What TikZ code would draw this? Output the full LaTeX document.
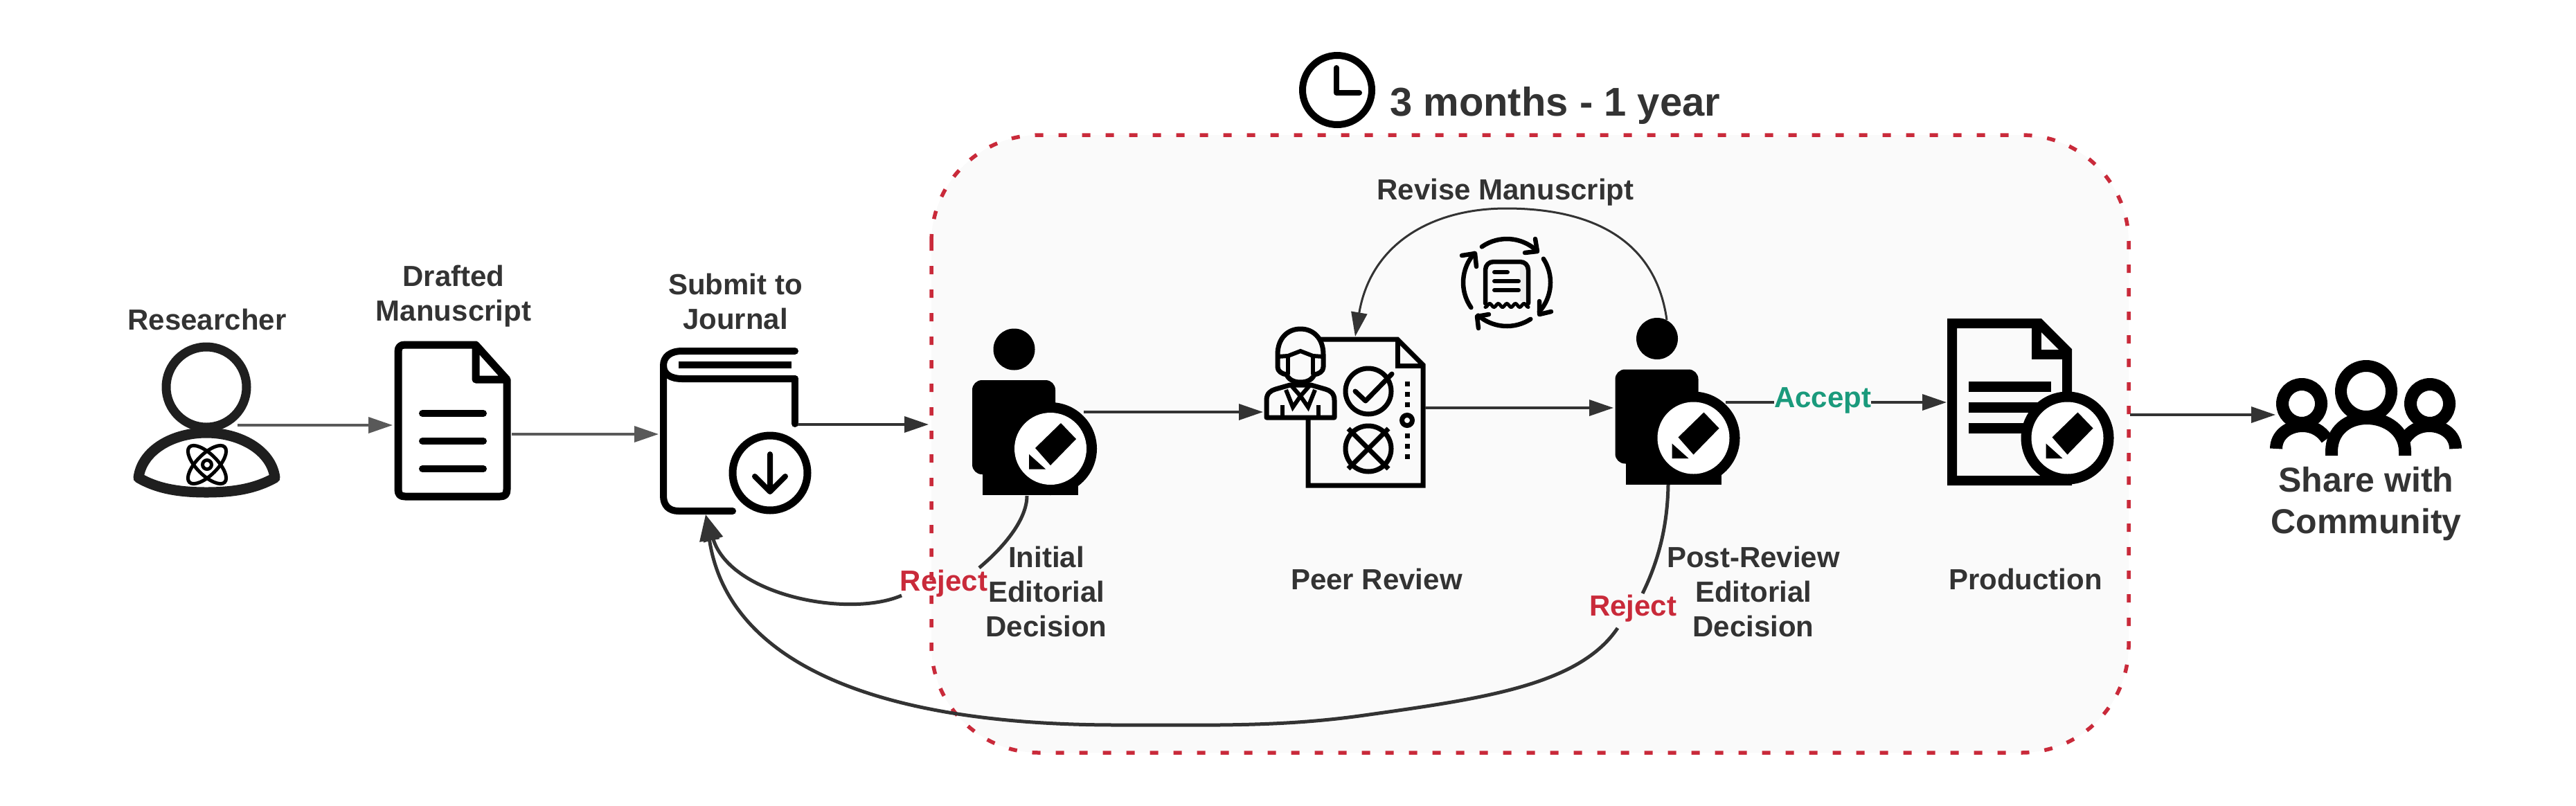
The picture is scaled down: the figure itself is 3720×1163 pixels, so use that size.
\documentclass[tikz,border=0pt]{standalone}
\usepackage{fontspec}
\setmainfont{Liberation Sans}
\usetikzlibrary{arrows.meta}
\definecolor{txt}{HTML}{333333}
\definecolor{boxred}{HTML}{C92A3A}
\definecolor{acc}{HTML}{1A9A7C}
\definecolor{soft}{HTML}{FAFAFA}
\tikzset{l/.style={font=\fontsize{42}{50}\selectfont\bfseries, text=txt, inner sep=0pt, anchor=base, align=center}}
\tikzset{xl/.style={font=\fontsize{50}{60}\selectfont\bfseries, text=txt, inner sep=0pt, anchor=base, align=center}}
\tikzset{
flow/.style={draw=txt, line width=3.5pt, -{Triangle[length=35pt,width=23pt]}},
flowgrey/.style={flow, draw=black!65, -{Triangle[length=35pt,width=23pt,fill=black!65]}},
back/.style={draw=txt, line width=5pt},
thick icon/.style={line width=#1, line cap=round, line join=round}
}
\tikzset{
badge/.pic={
  \fill (0,0) circle (67);
  \fill[white] (0,0) circle (52);
  \fill (15,-37) -- (37,-14) -- (0,24) -- (-22,-1) -- cycle;
  \fill (-31,8) -- (-31,29.5) -- (-7,29.5) -- cycle;
},
editor/.pic={
  \fill (-52.5,-143.5) circle (30);
  \fill[rounded corners=14] (-113,-99) rectangle (7,37);
  \fill (-98,0) rectangle (40,67);
  \pic at (0,0) {badge};
}
}
\begin{document}
\begin{tikzpicture}[x=1pt,y=-1pt]
  \useasboundingbox (0,0) rectangle (3720,1163);
  % review box
  \draw[boxred, fill=soft, line width=5.5pt, rounded corners=155, dash pattern=on 12pt off 22pt] (1345,195) rectangle (3074,1087);
  \coordinate (clockC) at (1931,130);
  \draw[line width=10pt] (clockC) circle (50);
  \draw[thick icon=8pt] (1930,98) -- (1930,134) -- (1963,134);
  \node[font=\fontsize{58}{58}\selectfont\bfseries, text=txt, inner sep=0pt, anchor=base west] (timeLabel) at (2007,167) {3 months - 1 year};

  % researcher
  \draw[line width=13pt, draw=black!88] (298,559) circle (58);
  \draw[line width=15pt, draw=black!88, line join=round] (200,690) .. controls (205,650) and (250,625) .. (298,625) .. controls (346,625) and (392,650) .. (397,690) .. controls (370,705) and (340,711) .. (298,711) .. controls (256,711) and (226,705) .. (200,690) -- cycle;
  \draw[line width=5pt] (299,671) circle (6.5);
  \draw[line width=5pt, rotate around={45:(299,671)}] (299,671) ellipse (36 and 15);
  \draw[line width=5pt, rotate around={-45:(299,671)}] (299,671) ellipse (36 and 15);
  \node[l] (researcher) at (299,476) {Researcher};

  % manuscript
  \draw[thick icon=11pt] (687,498) -- (585,498) .. controls (578,498) and (575,501) .. (575,508) -- (575,707) .. controls (575,714) and (578,717) .. (585,717) -- (722,717) .. controls (729,717) and (732,714) .. (732,707) -- (732,548) -- (687,498) -- (687,548) -- (732,548);
  \foreach \y in {597,637,677}
    \draw[thick icon=10pt] (610,\y) -- (698,\y);
  \node[l] (drafted) at (655,463) {Drafted\\Manuscript};

  % journal
  \draw[thick icon=10pt] (1148,507) -- (985,507) .. controls (968,507) and (958,515) .. (958,528) -- (958,716) .. controls (958,730) and (966,738) .. (980,738) -- (1058,738);
  \draw[thick icon=10pt] (1148,547) -- (985,547) .. controls (968,547) and (958,540) .. (958,528);
  \draw[thick icon=10pt] (1148,547) -- (1148,612);
  \draw[line width=10pt] (980,527) -- (1143,527);
  \draw[line width=11pt] (1112,683) circle (54);
  \draw[thick icon=8pt] (1112,656) -- (1112,710) (1090,688) -- (1112,710) -- (1134,688);
  \node[l] (submit) at (1062,475) {Submit to\\Journal};

  % initial decision, peer review, post review
  \pic at (1517,648) {editor};
  \node[l] (initial) at (1511,919) {Initial\\Editorial\\Decision};
  \draw[line width=7pt, line join=miter] (1889,560) -- (1889,701) -- (2055,701) -- (2055,527) -- (2018,490) -- (1905,490);
  \draw[line width=7pt] (2018,490) -- (2018,528) -- (2055,528);
  \draw[line width=7pt] (1976,565) circle (33);
  \draw[thick icon=7pt] (1957,565) -- (1972,579) -- (2010,540);
  \draw[line width=7pt] (1976,648) circle (33);
  \draw[line width=7pt] (1947,619) -- (2005,677) (2005,619) -- (1947,677);
  \foreach \y in {554,569,584,629,644,659}
    \fill (2028.5,\y-3.5) rectangle (2035.5,\y+3.5);
  \draw[line width=7pt] (2032,607) circle (7.5);
  % reviewer
  \draw[thick icon=7pt, fill=soft] (1829,603) -- (1829,578) .. controls (1829,568) and (1835,564) .. (1842,562) -- (1863,556) -- (1893,556) -- (1914,562) .. controls (1921,564) and (1927,568) .. (1927,578) -- (1927,603) -- cycle;
  \draw[thick icon=7pt, fill=soft] (1845,512) .. controls (1845,488) and (1860,475) .. (1878,475) .. controls (1896,475) and (1911,488) .. (1911,512) -- (1911,530) .. controls (1911,536) and (1905,540) .. (1898,541) .. controls (1895,548) and (1888,552) .. (1878,552) .. controls (1868,552) and (1861,548) .. (1858,541) .. controls (1851,540) and (1845,536) .. (1845,530) -- cycle;
  \draw[line width=6pt] (1845,515) -- (1860,514) -- (1878,507) -- (1896,514) -- (1911,515);
  \draw[line width=6pt] (1860,514) -- (1860,541) (1896,514) -- (1896,541);
  \draw[line width=6pt] (1857,563) -- (1867,588) -- (1878,572) -- (1889,588) -- (1899,563);
  \draw[line width=6pt] (1864,556) -- (1878,572) -- (1892,556);
  \draw[line width=6pt] (1852,585) -- (1852,603) (1904,585) -- (1904,603);
  \node[l] (peer) at (1988,851) {Peer Review};
  \pic at (2445.5,632.5) {editor};
  \node[l] (post) at (2532,919) {Post-Review\\Editorial\\Decision};

  % revise
  \node[l] (revise) at (2174,288) {Revise Manuscript};
  \foreach \a/\b in {125/47,33/-42,-57/-131,215/138}
    \draw[thick icon=6.5pt] (2176,408) ++(\a:63 and -63) arc[start angle=-\a, end angle=-\b, radius=63];
  \draw[thick icon=6.5pt] (2217,345) -- (2220,363) -- (2202,365);
  \draw[thick icon=6.5pt] (2223,435) -- (2223,454) -- (2240,450);
  \draw[thick icon=6.5pt] (2150,454) -- (2133,457) -- (2135,474);
  \draw[thick icon=6.5pt] (2111,369) -- (2130,366) -- (2132,385);
  \fill[black!8] (2195,382) rectangle (2205,435);
  \draw[thick icon=6.5pt] (2145,438) -- (2145,390) .. controls (2145,383) and (2150,378) .. (2157,378) -- (2195,378) .. controls (2202,378) and (2207,383) .. (2207,390) -- (2207,438);
  \draw[line width=5pt, line cap=round] plot[smooth, samples=45, domain=0:62] (2145+\x,{441+2.5*cos(29.03*\x)});
  \draw[thick icon=6pt] (2158,393) -- (2177,393) (2158,406) -- (2193,406) (2158,419) -- (2193,419);

  % production
  \draw[line width=14pt, fill=soft, line join=miter] (2819,467) -- (2945,467) -- (2985,507) -- (2985,694) -- (2819,694) -- cycle;
  \draw[line width=14pt] (2941,467) -- (2941,512) -- (2985,512);
  \foreach \y in {558,588,618}
    \draw[line width=15pt] (2843,\y) -- (2962,\y);
  \pic at (2985.5,632.5) {badge};
  \node[l] (production) at (2925,851) {Production};

  % community
  \draw[line width=17pt] (3417,565) circle (36.5);
  \draw[line width=18pt] (3324,583) circle (28);
  \draw[line width=18pt] (3509,583) circle (28);
  \draw[line width=18pt] (3367,658) -- (3367,652) .. controls (3367,622) and (3390,604) .. (3418,604) .. controls (3446,604) and (3473,622) .. (3473,652) -- (3473,658);
  \draw[line width=18pt] (3287,648) .. controls (3287,628) and (3305,615) .. (3325,615) .. controls (3340,615) and (3352,622) .. (3360,634);
  \draw[line width=18pt] (3546,648) .. controls (3546,628) and (3528,615) .. (3508,615) .. controls (3493,615) and (3481,622) .. (3473,634);
  \node[xl] (community) at (3417,770) {Share with\\Community};

  % connectors
  \coordinate (resOut) at (343,614);
  \coordinate (msIn) at (567,614);
  \coordinate (msOut) at (739,627);
  \coordinate (bookIn) at (951,627);
  \coordinate (bookOut) at (1152,613);
  \coordinate (boxIn) at (1341,613);
  \coordinate (iniOut) at (1565,595);
  \coordinate (peerIn) at (1824,595);
  \coordinate (peerOut) at (2058,589);
  \coordinate (postIn) at (2330,589);
  \coordinate (postOut) at (2492,581);
  \coordinate (prodIn) at (2811,581);
  \coordinate (boxOut) at (3076,599);
  \coordinate (commIn) at (3286,599);
  \coordinate (postTop) at (2407,462);
  \coordinate (peerTop) at (1957,486);
  \coordinate (iniBot) at (1483,716);
  \coordinate (postBot) at (2409,700);
  \coordinate (bookBot) at (1019,743);
  \coordinate (rejAin) at (1414,820);
  \coordinate (rejAout) at (1302,860);
  \coordinate (rejBin) at (2372,857);
  \coordinate (rejBout) at (2336,907);
  \draw[flowgrey] (resOut) -- (msIn);
  \draw[flowgrey] (msOut) -- (bookIn);
  \draw[flow] (bookOut) -- (boxIn);
  \draw[flow] (iniOut) -- (peerIn);
  \draw[flow] (peerOut) -- (postIn);
  \node[l, text=acc] (accept) at (2632,588) {Accept};
  \draw[draw=txt, line width=3.5pt] (postOut) -- (postOut -| accept.west);
  \draw[flow] (postOut -| accept.east) -- (prodIn);
  \draw[flow] (boxOut) -- (commIn);
  \draw[draw=txt, line width=3pt, -{Triangle[length=35pt,width=23pt]}] (postTop) .. controls (2390,340) and (2290,301) .. (2175,301) .. controls (2070,301) and (1980,350) .. (peerTop);
  \node[l, text=boxred] (rejA) at (1363,853) {Reject};
  \node[l, text=boxred] (rejB) at (2358,889) {Reject};
  \draw[back] (iniBot) .. controls (1483,750) and (1450,790) .. (rejAin);
  \draw[back, -{Triangle[length=38pt,width=28pt]}] (rejAout) .. controls (1225,893) and (1055,860) .. (bookBot);
  \draw[back] (postBot) .. controls (2408,760) and (2395,810) .. (rejBin);
  \draw[back, -{Triangle[length=38pt,width=28pt]}] (rejBout) .. controls (2280,990) and (2140,1009) .. (1970,1033) .. controls (1850,1050) and (1750,1047) .. (1613,1047) .. controls (1250,1047) and (1050,950) .. (bookBot);
\end{tikzpicture}
\end{document}
